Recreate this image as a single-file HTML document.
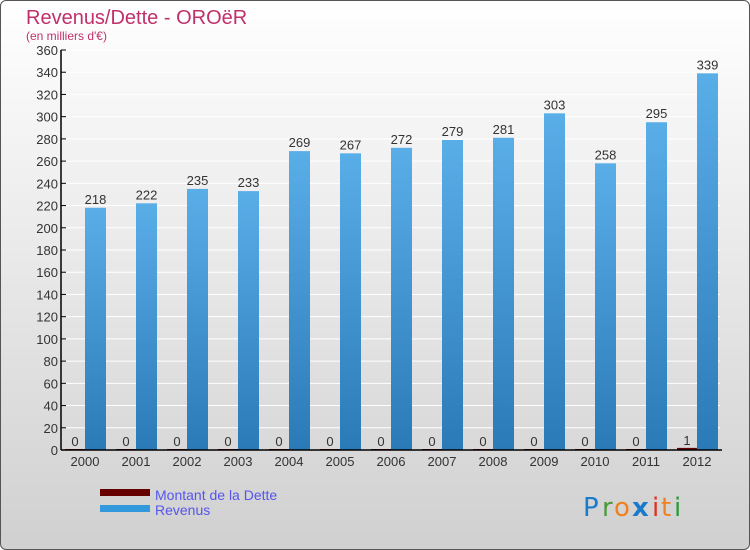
<!DOCTYPE html>
<html><head><meta charset="utf-8"><style>
body{margin:0;width:750px;height:550px;overflow:hidden;font-family:"Liberation Sans","DejaVu Sans",sans-serif}
#c{position:absolute;left:0;top:0;width:748px;height:548px;border:1px solid #555;border-radius:6px;background:linear-gradient(#ffffff,#d0d0d0)}
</style></head><body>
<div id="c"></div>
<svg id="s" width="750" height="550" style="position:absolute;left:0;top:0">
<text x="26" y="24" font-size="20" fill="#c0306a">Revenus/Dette - OROëR</text>
<text x="26" y="40" font-size="12" fill="#c0306a">(en milliers d'€)</text>
<g id="plot"></g>
<rect x="100" y="489" width="50" height="7" fill="#660000"/>
<text x="155" y="500" font-size="14" fill="#5555ee">Montant de la Dette</text>
<rect x="100" y="505" width="50" height="7" fill="#3399dd"/>
<text x="155" y="515" font-size="14" fill="#5555ee">Revenus</text>
<g font-size="26" font-family="'DejaVu Sans',sans-serif">
<text x="583" y="516" fill="#1a7acc">P</text><text x="602" y="516" fill="#4a9a3a">r</text><text x="614" y="516" fill="#f08020">o</text><text x="632" y="516" fill="#1a7acc" font-weight="bold">x</text><text x="652" y="516" fill="#e03020">i</text><text x="661" y="516" fill="#f08020">t</text><text x="674" y="516" fill="#2a9a3a">i</text>
</g>
</svg>
<script>
const years=["2000","2001","2002","2003","2004","2005","2006","2007","2008","2009","2010","2011","2012"];
const dette=[0,0,0,0,0,0,0,0,0,0,0,0,1];
const revenus=[218,222,235,233,269,267,272,279,281,303,258,295,339];
const yTicks=[0,20,40,60,80,100,120,140,160,180,200,220,240,260,280,300,320,340,360];
const NS="http://www.w3.org/2000/svg";
const g=document.getElementById('plot');
const y=v=>450-v*400/360;
const x=i=>85+i*51;
function el(t,a){const e=document.createElementNS(NS,t);for(const k in a)e.setAttribute(k,a[k]);g.appendChild(e);return e;}
const defs=el('defs',{});
defs.innerHTML='<linearGradient id="gb" x1="0" x2="0" y1="0" y2="1"><stop offset="0" stop-color="#5aaee8"/><stop offset="1" stop-color="#2a7ab8"/></linearGradient>';
yTicks.forEach(v=>{
 const l=el('line',{x1:61,x2:720,y1:y(v),y2:y(v),stroke:'#fff','stroke-width':1});
 
 const t=el('line',{x1:61,x2:66,y1:y(v),y2:y(v),stroke:'#000'});
 
 const tx=el('text',{x:58,y:y(v)+5,'text-anchor':'end','font-size':13,fill:'#333'});tx.textContent=v;
 
});
years.forEach((yr,i)=>{
 const cx=x(i);
 const d=el('rect',{x:cx-20,y:y(dette[i])-1,width:20,height:450-y(dette[i])+1,fill:'#660000'});
 
 const r=el('rect',{x:cx,y:y(revenus[i]),width:21,height:450-y(revenus[i]),fill:'url(#gb)'});
 
 const dl=el('text',{x:cx-10,y:y(dette[i])-4,'text-anchor':'middle','font-size':13,fill:'#333'});dl.textContent=dette[i];
 
 const rl=el('text',{x:cx+10.5,y:y(revenus[i])-4,'text-anchor':'middle','font-size':13,fill:'#333'});rl.textContent=revenus[i];
 
 const xl=el('text',{x:cx,y:466,'text-anchor':'middle','font-size':13,fill:'#333'});xl.textContent=yr;
 
});
const ya=el('line',{x1:61,x2:61,y1:50,y2:450,stroke:'#000','stroke-width':1.5});

const xa=el('line',{x1:61,x2:722,y1:450,y2:450,stroke:'#000','stroke-width':1.5});

</script>
</body></html>
